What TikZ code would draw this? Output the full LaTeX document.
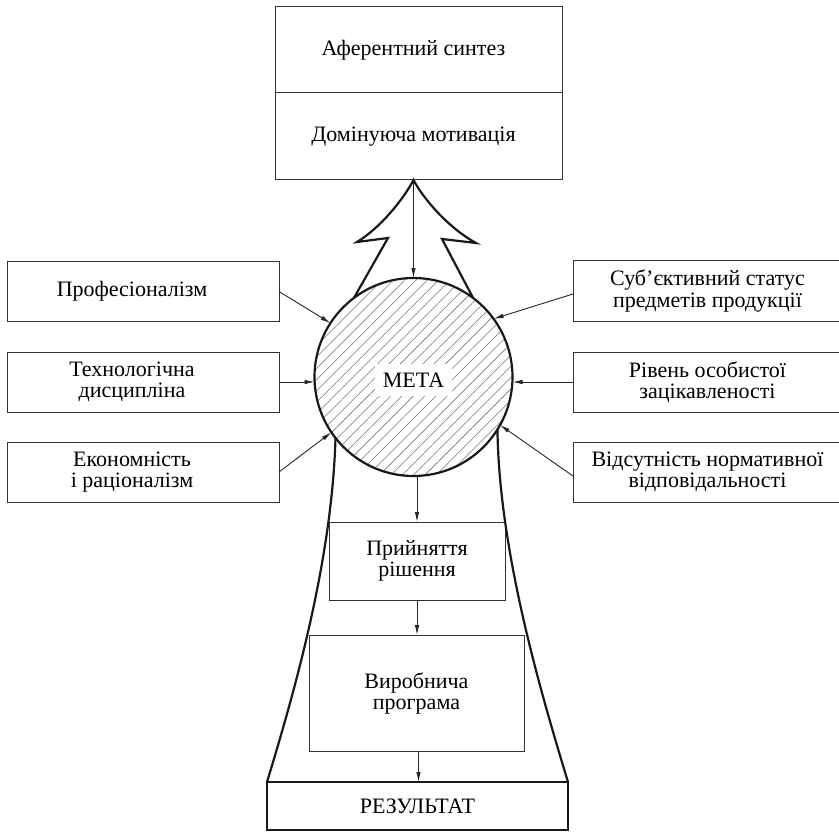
\documentclass[tikz,border=0pt]{standalone}
\usepackage{fontspec}
\setmainfont{Liberation Serif}
\usetikzlibrary{arrows.meta,patterns.meta}
\begin{document}
\begin{tikzpicture}[x=1pt,y=-1pt,
  every node/.style={font=\fontsize{22pt}{21pt}\selectfont, text=black},
  box/.style={draw=black!80, line width=1pt, align=center, inner sep=0pt, outer sep=0pt},
  thickline/.style={draw=black!90, line width=2.2pt},
  arr/.style={draw=black!85, line width=0.9pt, -{Latex[length=10pt,width=4.5pt]}}]
\useasboundingbox (0,0) rectangle (839,832);
% top boxes
\node[box, minimum width=287pt, minimum height=86pt] (afer) at (418.5,50) {\hspace*{-10pt}Аферентний синтез};
\node[box, minimum width=287pt, minimum height=87pt] (domin) at (418.5,136.5) {\hspace*{-10pt}Домінуюча мотивація};
% left boxes
\node[box, minimum width=272pt, minimum height=59pt] (prof) at (143,291.5) {Професіоналізм\hspace*{22pt}};
\node[box, minimum width=272pt, minimum height=60pt] (tech) at (143,382) {Технологічна\hspace*{22pt}\\дисципліна\hspace*{22pt}};
\node[box, minimum width=272pt, minimum height=60pt] (econ) at (143,472) {Економність\hspace*{22pt}\\і раціоналізм\hspace*{22pt}};
% right boxes
\node[box, minimum width=269pt, minimum height=60pt] (subj) at (707.5,291) {Суб’єктивний статус\\предметів продукції};
\node[box, minimum width=269pt, minimum height=60pt] (riven) at (707.5,382) {Рівень особистої\\зацікавленості};
\node[box, minimum width=269pt, minimum height=60pt] (vids) at (707.5,472) {Відсутність нормативної\\відповідальності};
% goal circle
\node[circle, draw=black!90, line width=2.2pt, minimum size=198pt, inner sep=0pt, outer sep=0pt,
  pattern={Lines[angle=45,distance=8pt,line width=0.55pt]}, pattern color=black!55] (M) at (413.5,377) {};
\node[fill=white, inner xsep=8pt, inner ysep=9pt] (meta) at (413.5,380) {МЕТА};
% middle boxes
\node[box, minimum width=176pt, minimum height=78pt] (pryin) at (417,561) {Прийняття\\рішення};
\node[box, minimum width=215pt, minimum height=116pt] (vyrob) at (416.5,693) {Виробнича\\програма};
\node[box, draw=black!90, line width=2.2pt, minimum width=301pt, minimum height=48pt] (rez) at (417.5,806) {РЕЗУЛЬТАТ};
% tree shape
\coordinate (apex) at (domin.south -| M);
\path[thickline, line join=miter] (M.127) -- (388,238) -- (357,242)
  .. controls (380,228) and (403,200) .. (apex)
  .. controls (424,200) and (450,229) .. (476,243) -- (442,239) -- (M.53);
% funnel
\path[thickline] (M.218) .. controls (332,560) and (295,690) .. (rez.north west);
\path[thickline] (M.-32) .. controls (499,550) and (540,690) .. (rez.north east);
% arrows
\draw[arr] (apex) -- (M.north);
\draw[arr] (prof.east) -- (M.147.5);
\draw[arr] (tech.east) -- (tech.east -| M.west);
\draw[arr] (econ.east) -- (M.214.8);
\draw[arr] ([yshift=-3pt]subj.west) -- (M.36);
\draw[arr] (riven.west) -- (riven.west -| M.east);
\draw[arr] ([yshift=-4pt]vids.west) -- (M.-29.4);
\draw[arr] (pryin.north |- M.south) -- (pryin.north);
\draw[arr] (pryin.south) -- (pryin.south |- vyrob.north);
\draw[arr] ([xshift=2pt]vyrob.south) -- ([xshift=2pt]vyrob.south |- rez.north);
\end{tikzpicture}
\end{document}
